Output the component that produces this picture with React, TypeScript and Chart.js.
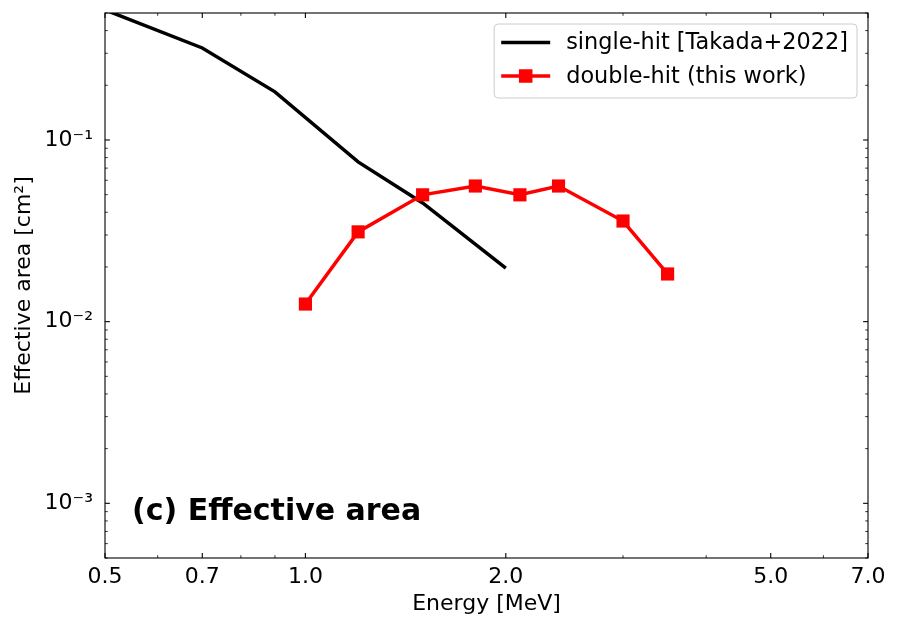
import React, { useEffect, useRef } from "react";
import { Chart, registerables } from "chart.js";

Chart.register(...registerables);

// ---- data ----
const SINGLE_E = [0.5, 0.7, 0.9, 1.2, 1.5, 2.0];
const SINGLE_A = [0.52, 0.321, 0.184, 0.0757, 0.045, 0.0197];
const DOUBLE_E = [1.0, 1.2, 1.5, 1.8, 2.1, 2.4, 3.0, 3.5];
const DOUBLE_A = [0.0125, 0.0312, 0.0499, 0.0558, 0.0499, 0.0558, 0.0358, 0.0183];

const SINGLE_LABEL = "single-hit [Takada+2022]";
const DOUBLE_LABEL = "double-hit (this work)";
const X_TITLE = "Energy [MeV]";
const Y_TITLE = "Effective area [cm²]";
const PANEL_TEXT = "(c) Effective area";

const X_TICKS = [0.5, 0.7, 1.0, 2.0, 5.0, 7.0];
const X_TICK_LABELS = ["0.5", "0.7", "1.0", "2.0", "5.0", "7.0"];
const X_MINOR = [0.6, 0.8, 0.9, 3, 4, 6];
const Y_TICKS = [1e-3, 1e-2, 1e-1];
const Y_TICK_LABELS = ["10⁻³", "10⁻²", "10⁻¹"];
const Y_MIN = 5e-4;
const Y_MAX = 0.5;
const X_MIN = 0.5;
const X_MAX = 7.0;

const FONT = "DejaVu Sans";

function yMinorTicks(): number[] {
  const out: number[] = [];
  for (let k = -4; k <= 0; k++) {
    for (let m = 2; m <= 9; m++) {
      const v = m * Math.pow(10, k);
      if (v >= Y_MIN * 0.999 && v <= Y_MAX * 1.001) out.push(v);
    }
  }
  return out;
}

const decor = {
  id: "decor",
  afterDraw(chart: any) {
    const { ctx, chartArea } = chart;
    const { left, right, top, bottom } = chartArea;
    const xs = chart.scales.x;
    const ys = chart.scales.y;
    ctx.save();
    ctx.strokeStyle = "#000";
    const seg = (x1: number, y1: number, x2: number, y2: number) => {
      ctx.beginPath();
      ctx.moveTo(x1, y1);
      ctx.lineTo(x2, y2);
      ctx.stroke();
    };
    const xTick = (v: number, len: number, w: number) => {
      const p = xs.getPixelForValue(v);
      ctx.lineWidth = w;
      seg(p, bottom, p, bottom - len);
      seg(p, top, p, top + len);
    };
    X_TICKS.forEach((v) => xTick(v, 4.9, 1.1));
    X_MINOR.forEach((v) => xTick(v, 2.8, 0.8));
    const yTick = (v: number, len: number, w: number) => {
      const p = ys.getPixelForValue(v);
      ctx.lineWidth = w;
      seg(left, p, left + len, p);
      seg(right, p, right - len, p);
    };
    Y_TICKS.forEach((v) => yTick(v, 4.9, 1.1));
    yMinorTicks().forEach((v) => yTick(v, 2.8, 0.8));

    // frame
    ctx.lineWidth = 1.1;
    ctx.strokeRect(left, top, right - left, bottom - top);

    // panel label
    ctx.fillStyle = "#000";
    ctx.font = `bold 30px "${FONT}"`;
    ctx.textAlign = "left";
    ctx.textBaseline = "alphabetic";
    ctx.fillText(PANEL_TEXT, left + 27, bottom - 38);

    // legend
    const ds = chart.data.datasets;
    ctx.font = `22.4px "${FONT}"`;
    const maxW = Math.max(...ds.map((d: any) => ctx.measureText(d.label).width));
    const boxRight = right - 11;
    const boxTop = top + 11;
    const boxW = 7 + 49 + 16 + maxW + 9;
    const boxH = 74;
    const boxLeft = boxRight - boxW;
    const r = 4;
    ctx.beginPath();
    ctx.moveTo(boxLeft + r, boxTop);
    ctx.lineTo(boxRight - r, boxTop);
    ctx.quadraticCurveTo(boxRight, boxTop, boxRight, boxTop + r);
    ctx.lineTo(boxRight, boxTop + boxH - r);
    ctx.quadraticCurveTo(boxRight, boxTop + boxH, boxRight - r, boxTop + boxH);
    ctx.lineTo(boxLeft + r, boxTop + boxH);
    ctx.quadraticCurveTo(boxLeft, boxTop + boxH, boxLeft, boxTop + boxH - r);
    ctx.lineTo(boxLeft, boxTop + r);
    ctx.quadraticCurveTo(boxLeft, boxTop, boxLeft + r, boxTop);
    ctx.closePath();
    ctx.fillStyle = "rgba(255,255,255,0.8)";
    ctx.fill();
    ctx.lineWidth = 1;
    ctx.strokeStyle = "#cccccc";
    ctx.stroke();

    ds.forEach((d: any, i: number) => {
      const cy = boxTop + 18.5 + i * 33.5;
      const x1 = boxLeft + 7;
      const x2 = x1 + 49;
      ctx.strokeStyle = d.borderColor;
      ctx.lineWidth = d.borderWidth;
      seg(x1, cy, x2, cy);
      if (d.pointStyle === "rect") {
        const s = 13.5;
        ctx.fillStyle = d.backgroundColor;
        ctx.fillRect((x1 + x2) / 2 - s / 2, cy - s / 2, s, s);
      }
      ctx.fillStyle = "#000";
      ctx.font = `22.4px "${FONT}"`;
      ctx.textBaseline = "middle";
      ctx.fillText(d.label, x2 + 16, cy + 1);
    });
    ctx.restore();
  },
};

export default function App() {
  const ref = useRef<HTMLCanvasElement>(null);
  useEffect(() => {
    document.body.style.margin = "0";
    const chart = new Chart(ref.current as HTMLCanvasElement, {
      type: "line",
      data: {
        datasets: [
          {
            label: SINGLE_LABEL,
            data: SINGLE_E.map((e, i) => ({ x: e, y: SINGLE_A[i] })),
            borderColor: "#000000",
            backgroundColor: "#000000",
            borderWidth: 3.5,
            pointRadius: 0,
            pointHoverRadius: 0,
            tension: 0,
            order: 1,
            clip: 0,
          } as any,
          {
            label: DOUBLE_LABEL,
            data: DOUBLE_E.map((e, i) => ({ x: e, y: DOUBLE_A[i] })),
            borderColor: "#ff0000",
            backgroundColor: "#ff0000",
            borderWidth: 3.5,
            pointStyle: "rect",
            pointRadius: 9.3,
            pointHoverRadius: 9.3,
            pointBorderWidth: 0,
            tension: 0,
            order: 0,
          } as any,
        ],
      },
      options: {
        animation: false,
        responsive: false,
        events: [],
        layout: { padding: { left: 0, right: 32, top: 13, bottom: 0 } },
        plugins: { legend: { display: false }, tooltip: { enabled: false } },
        scales: {
          x: {
            type: "logarithmic",
            position: "bottom",
            min: X_MIN,
            max: X_MAX,
            afterBuildTicks: (s: any) => {
              s.ticks = X_TICKS.map((v) => ({ value: v }));
            },
            afterFit: (s: any) => {
              s.height = 72;
              s.paddingLeft = 0;
              s.paddingRight = 0;
            },
            ticks: {
              autoSkip: false,
              maxRotation: 0,
              minRotation: 0,
              padding: 6,
              color: "#000",
              font: { family: FONT, size: 22 },
              callback: (v: any) => {
                const i = X_TICKS.findIndex((t) => Math.abs(t - Number(v)) / t < 1e-6);
                return i >= 0 ? X_TICK_LABELS[i] : "";
              },
            },
            grid: { display: false, drawTicks: false },
            border: { display: false },
            title: {
              display: true,
              text: X_TITLE,
              color: "#000",
              font: { family: FONT, size: 22 },
              padding: { top: 0, bottom: 13 },
            },
          } as any,
          y: {
            type: "logarithmic",
            position: "left",
            min: Y_MIN,
            max: Y_MAX,
            afterBuildTicks: (s: any) => {
              s.ticks = Y_TICKS.map((v) => ({ value: v }));
            },
            afterFit: (s: any) => {
              s.width = 105;
              s.paddingTop = 0;
              s.paddingBottom = 0;
            },
            ticks: {
              autoSkip: false,
              padding: 12,
              color: "#000",
              font: { family: FONT, size: 22 },
              callback: (v: any) => {
                const i = Y_TICKS.findIndex((t) => Math.abs(t - Number(v)) / t < 1e-6);
                return i >= 0 ? Y_TICK_LABELS[i] : "";
              },
            },
            grid: { display: false, drawTicks: false },
            border: { display: false },
            title: {
              display: true,
              text: Y_TITLE,
              color: "#000",
              font: { family: FONT, size: 22 },
              padding: { top: 11, bottom: 0 },
            },
          } as any,
        },
      },
      plugins: [decor],
    });
    return () => chart.destroy();
  }, []);
  return <canvas ref={ref} width={900} height={630} style={{ display: "block" }} />;
}
